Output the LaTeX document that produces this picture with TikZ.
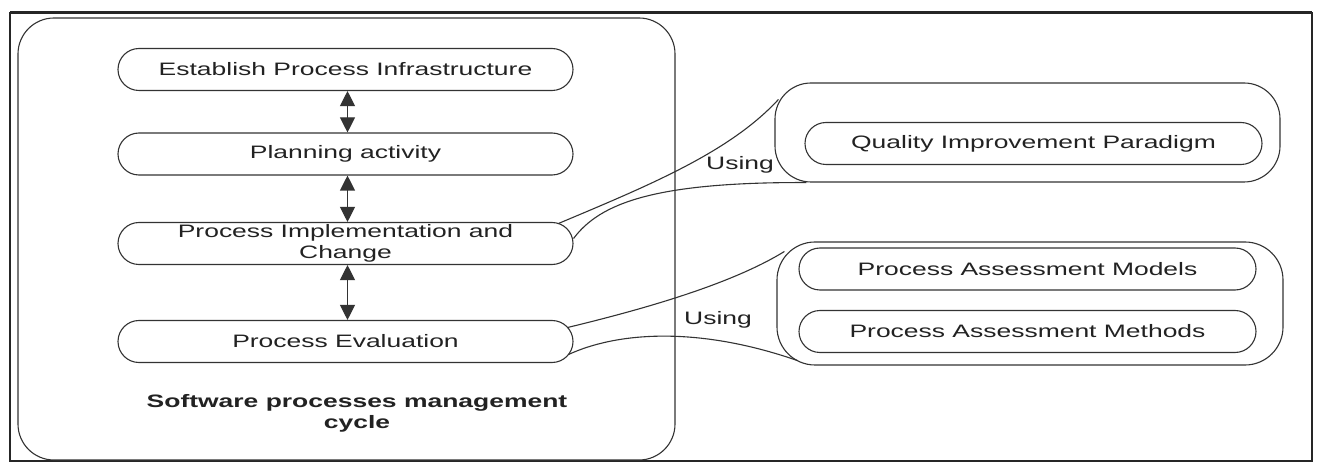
\documentclass[tikz,border=0pt]{standalone}
\usepackage{fontspec}
\setmainfont[FakeStretch=1.47]{Liberation Sans}
\usetikzlibrary{arrows.meta,calc}
\definecolor{ink}{HTML}{333333}
\definecolor{txt}{HTML}{222222}
\begin{document}
\begin{tikzpicture}[x=1pt,y=-1pt,
  group/.style={draw=ink, line width=1.1pt, rounded corners=36pt, inner sep=0pt},
  item/.style={draw=ink, line width=1.1pt, rounded corners=21pt, minimum width=455pt,
    minimum height=42pt, inner sep=0pt, font=\fontsize{18}{21}\selectfont, text=txt, align=center},
  lbl/.style={font=\fontsize{18}{21}\selectfont, text=txt, inner sep=0pt, align=center},
  link/.style={draw=ink, line width=1.1pt},
  dbl/.style={draw=ink, line width=1.1pt, {Triangle[length=15pt,width=15pt]}-{Triangle[length=15pt,width=15pt]}}]
\useasboundingbox (0,0) rectangle (1320,462);
\fill[white] (0,0) rectangle (1320,462);
% outer frame
\draw[black!85, line width=2.5pt] (10,462) -- (10,13) -- (1312,13) -- (1312,462);
\draw[black!85, line width=3pt] (10,13) -- (1312,13);
\draw[black!85, line width=1.5pt] (10,461) -- (1312,461);
% groups
\node[group, minimum width=657pt, minimum height=442pt] (cycle) at (346.5,239) {};
\node[group, minimum width=505pt, minimum height=99pt] (qipg) at (1027.5,132.5) {};
\node[group, minimum width=506pt, minimum height=123pt, rounded corners=38pt] (assg) at (1030,303.5) {};
% left items
\node[item] (est) at (345.5,69.5) {Establish Process Infrastructure};
\node[item] (plan) at (345.5,154) {Planning activity};
\node[item] (impl) at (345.5,243.5) {Process Implementation and\\Change};
\node[item] (eval) at (345.5,341.5) {Process Evaluation};
\node[lbl, font=\fontsize{18}{21}\selectfont\bfseries] (cap) at (357,413) {Software processes management\\cycle};
% right items
\node[item, minimum width=457pt] (qip) at (1033.5,143.5) {Quality Improvement Paradigm};
\node[item, minimum width=457pt] (pam) at (1027.5,269) {Process Assessment Models};
\node[item, minimum width=457pt] (pame) at (1027.5,331.5) {Process Assessment Methods};
% arrows
\draw[dbl] ($(est.south)+(2,0)$) -- ($(plan.north)+(2,0)$);
\draw[dbl] ($(plan.south)+(2,0)$) -- ($(impl.north)+(2,0)$);
\draw[dbl] ($(impl.south)+(2,0)$) -- ($(eval.north)+(2,0)$);
% using links
\draw[link] ($(impl.north east)+(-15,1.5)$) .. controls (650,185) and (730,152) .. ($(qipg.north west)+(4,17)$);
\draw[link] ($(impl.east)+(0,-5)$) .. controls (600,203) and (655,182) .. ($(qipg.south west)+(32,0)$);
\draw[link] ($(eval.east)+(-6,-14)$) .. controls (640,310) and (730,285) .. ($(assg.north west)+(8,10)$);
\draw[link] ($(eval.east)+(-5,13)$) .. controls (615,333) and (695,325) .. ($(assg.south west)+(21,-5)$);
\node[lbl] (u1) at (740,165) {Using};
\node[lbl] (u2) at (718,320) {Using};
\end{tikzpicture}
\end{document}
